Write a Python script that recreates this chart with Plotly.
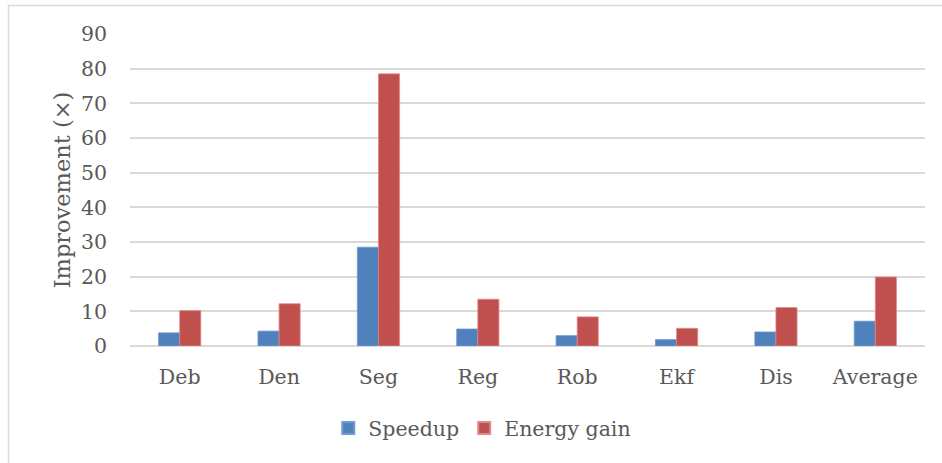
import plotly.graph_objects as go

# Benchmarks and measured improvements
categories = ["Deb", "Den", "Seg", "Reg", "Rob", "Ekf", "Dis", "Average"]
speedup = [3.8, 4.3, 28.5, 4.9, 3.0, 1.85, 4.05, 7.15]
energy_gain = [10.2, 12.2, 78.5, 13.5, 8.4, 5.1, 11.1, 19.9]
y_ticks = [0, 10, 20, 30, 40, 50, 60, 70, 80, 90]

FONT = "DejaVu Serif"
TEXT = "#595959"
GRID = "#d9d9d9"

fig = go.Figure()
fig.add_trace(go.Bar(
    x=categories, y=speedup, name="Speedup",
    marker=dict(color="#4f81bd", line=dict(color="#6f9bd0", width=0.8)),
))
fig.add_trace(go.Bar(
    x=categories, y=energy_gain, name="Energy gain",
    marker=dict(color="#c0504d", line=dict(color="#e08a88", width=0.8)),
))

fig.update_layout(
    width=942, height=463,
    margin=dict(l=130, r=17, t=34, b=117),
    paper_bgcolor="white", plot_bgcolor="white",
    barmode="group", bargap=0.575, bargroupgap=0,
    font=dict(family=FONT, color=TEXT, size=20.5),
    showlegend=True,
    legend=dict(
        orientation="h", xref="container", yref="container",
        x=0.512, y=0.075, xanchor="center", yanchor="middle",
        font=dict(family=FONT, size=20.5, color=TEXT),
        itemsizing="constant", itemwidth=30, traceorder="normal",
    ),
    # chart-area frame: left and top edges visible, right/bottom run off the page
    shapes=[dict(
        type="rect", xref="paper", yref="paper",
        x0=-121.5 / 795, x1=(960 - 130) / 795,
        y0=-140 / 312, y1=(346 - 5.5) / 312,
        line=dict(color="#d9d9d9", width=1.5), fillcolor="rgba(0,0,0,0)",
        layer="below",
    )],
)

fig.update_xaxes(
    showgrid=False, showline=False, zeroline=False, ticks="",
    tickfont=dict(family=FONT, size=20.5, color=TEXT), ticklabelstandoff=16,
)
fig.update_yaxes(
    range=[0, 90], tickvals=y_ticks, showgrid=True, gridcolor=GRID, gridwidth=1.5,
    zeroline=True, zerolinecolor=GRID, zerolinewidth=1.5, showline=False, ticks="",
    tickfont=dict(family=FONT, size=20.5, color=TEXT), ticklabelstandoff=22,
    title=dict(text="Improvement (×)", font=dict(family=FONT, size=22.5, color=TEXT), standoff=4),
)

fig.write_html("out.html")
